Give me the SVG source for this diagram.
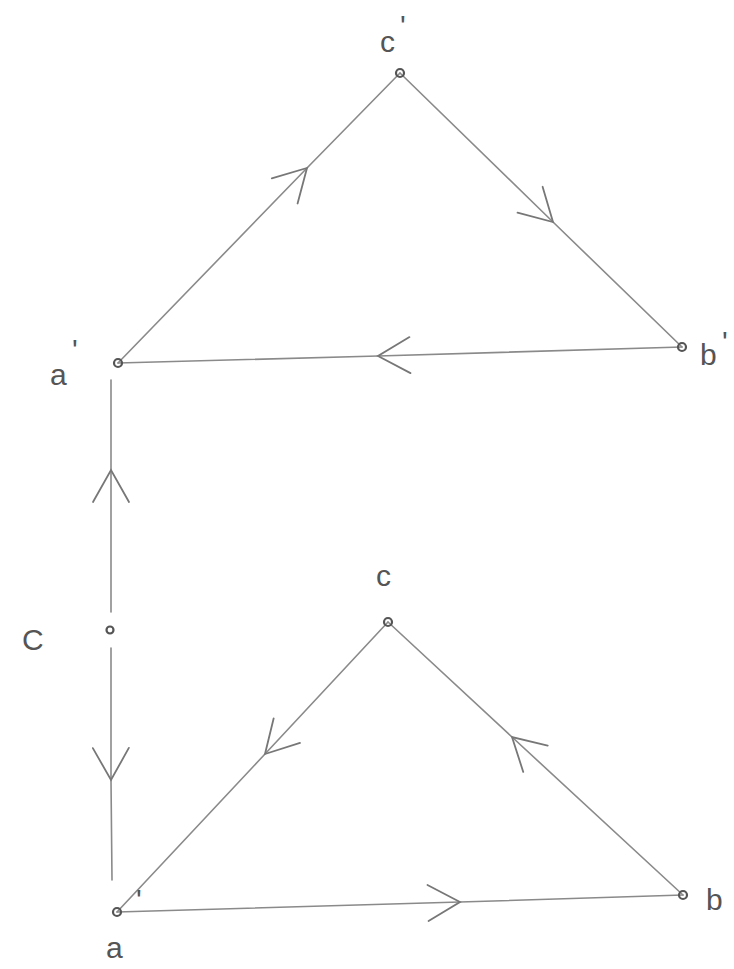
<svg xmlns="http://www.w3.org/2000/svg" width="734" height="969" viewBox="0 0 734 969">
<style>
.edge{fill:none;stroke:#8a8a8a;stroke-width:1.6;stroke-linecap:round}
.pt{fill:none;stroke:#555;stroke-width:2.2}
.lbl{font-family:"Liberation Sans",Arial,sans-serif;font-size:30px;fill:#555}
</style>
<defs>
<marker id="chev" markerUnits="userSpaceOnUse" markerWidth="50" markerHeight="50" viewBox="-40 -25 50 50" refX="0" refY="0" orient="auto" overflow="visible">
<path d="M -32 -18 L 0 0 L -32 18" fill="none" stroke="#777" stroke-width="1.8" stroke-linecap="round"/>
</marker>
</defs>
<rect width="734" height="969" fill="#ffffff"/>
<g id="connectors">
<path class="edge" d="M 118 363 L 307 168 L 400 73" marker-mid="url(#chev)"/>
<path class="edge" d="M 400 73 L 553 222 L 682 347" marker-mid="url(#chev)"/>
<path class="edge" d="M 682 347 L 378 356 L 118 363" marker-mid="url(#chev)"/>
<path class="edge" d="M 111 612 L 111 470 L 111 380" marker-mid="url(#chev)"/>
<path class="edge" d="M 111 648 L 111 780 L 112 880" marker-mid="url(#chev)"/>
<path class="edge" d="M 388 622 L 265 754 L 117 912" marker-mid="url(#chev)"/>
<path class="edge" d="M 683 895 L 512 737 L 388 622" marker-mid="url(#chev)"/>
<path class="edge" d="M 117 912 L 460 902 L 683 895" marker-mid="url(#chev)"/>
</g>
<g id="node-c-prime">
<circle class="pt" cx="400" cy="73" r="4"/>
<text class="lbl" x="380" y="52">c</text><text class="lbl" x="400" y="36" font-size="20">'</text>
</g>
<g id="node-a-prime">
<circle class="pt" cx="118" cy="363" r="4"/>
<text class="lbl" x="50" y="385">a</text><text class="lbl" x="72" y="360" font-size="20">'</text>
</g>
<g id="node-b-prime">
<circle class="pt" cx="682" cy="347" r="4"/>
<text class="lbl" x="700" y="365">b</text><text class="lbl" x="722" y="352" font-size="20">'</text>
</g>
<g id="node-C">
<circle class="pt" cx="110" cy="630" r="3.5"/>
<text class="lbl" x="22" y="650">C</text>
</g>
<g id="node-c">
<circle class="pt" cx="388" cy="622" r="4"/>
<text class="lbl" x="376" y="586">c</text>
</g>
<g id="node-a">
<circle class="pt" cx="117" cy="912" r="4"/>
<text class="lbl" x="106" y="958">a</text><text class="lbl" x="136" y="910" font-size="18">'</text>
</g>
<g id="node-b">
<circle class="pt" cx="683" cy="895" r="4"/>
<text class="lbl" x="706" y="910">b</text>
</g>
</svg>
